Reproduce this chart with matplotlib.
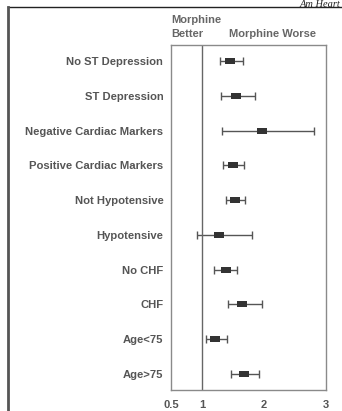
import matplotlib
matplotlib.use("Agg")
import matplotlib.pyplot as plt
from matplotlib.lines import Line2D

plt.rcParams["font.family"] = ["Liberation Sans", "DejaVu Sans"]

groups = ["No ST Depression", "ST Depression", "Negative Cardiac Markers",
          "Positive Cardiac Markers", "Not Hypotensive", "Hypotensive",
          "No CHF", "CHF", "Age<75", "Age>75"]
odds = [1.45, 1.55, 1.96, 1.50, 1.53, 1.27, 1.39, 1.65, 1.21, 1.68]
ci_low = [1.29, 1.31, 1.33, 1.34, 1.38, 0.92, 1.20, 1.42, 1.06, 1.47]
ci_high = [1.66, 1.85, 2.80, 1.67, 1.69, 1.80, 1.56, 1.96, 1.40, 1.92]
xticks = [0.5, 1, 2, 3]
xticklabels = ["0.5", "1", "2", "3"]

W, H = 342, 411
fig = plt.figure(figsize=(W / 100, H / 100), dpi=100)
ax = fig.add_axes([171 / W, 1 - 390 / H, 155 / W, 345 / H])

ypos = list(range(len(groups)))
err = [[o - l for o, l in zip(odds, ci_low)], [h - o for o, h in zip(odds, ci_high)]]
ax.errorbar(odds, ypos, xerr=err, fmt="none", ecolor="#555555", elinewidth=1.0,
            capsize=3, capthick=1.0)
box = [(-1.45, -1), (1.45, -1), (1.45, 1), (-1.45, 1), (-1.45, -1)]
ax.plot(odds, ypos, linestyle="none", marker=box, markersize=7,
        color="#333333", markeredgewidth=0)

ax.axvline(1, color="#666666", linewidth=1.0)
ax.set_xlim(0.5, 3)
ax.set_ylim(len(groups) - 0.54, -0.46)
ax.set_xticks(xticks)
ax.set_xticklabels(xticklabels, fontsize=8, fontweight="bold", color="#555555")
ax.set_yticks(ypos)
ax.set_yticklabels(groups, fontsize=8.1, fontweight="bold", color="#555555")
ax.tick_params(length=0, pad=7)
ax.tick_params(axis="y", pad=5.5)
for s in ax.spines.values():
    s.set_color("#8a8a8a")
    s.set_linewidth(1.0)

# column headers above the plot
fig.text(171 / W, 1 - 20 / H, "Morphine", fontsize=8, fontweight="bold",
         color="#666666", ha="left", va="center")
fig.text(171 / W, 1 - 34 / H, "Better", fontsize=8, fontweight="bold",
         color="#666666", ha="left", va="center")
fig.text(229 / W, 1 - 34 / H, "Morphine Worse", fontsize=8, fontweight="bold",
         color="#666666", ha="left", va="center")

# page frame and running head
fig.add_artist(Line2D([8 / W, 1], [1 - 7 / H, 1 - 7 / H], color="#222222", linewidth=1.0))
fig.add_artist(Line2D([8 / W, 8 / W], [0, 1 - 7 / H], color="#555555", linewidth=2.0))
fig.text(1 - 2 / W, 1, "Am Heart", fontsize=7.5, style="italic",
         family="Liberation Serif", color="#222222", ha="right", va="top")

fig.savefig("out.png", dpi=100)
